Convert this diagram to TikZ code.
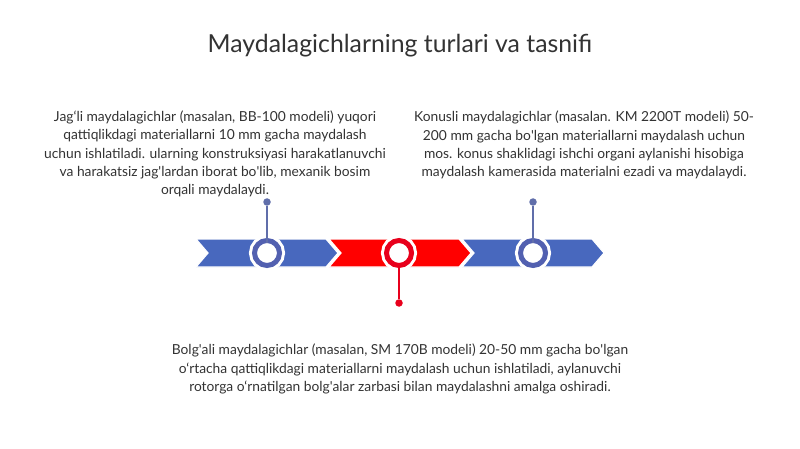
\documentclass[tikz,border=0pt]{standalone}
\usepackage{fontspec}
\setmainfont{Lato}
\definecolor{bandblue}{RGB}{72,104,190}
\definecolor{ringblue}{RGB}{82,96,176}
\definecolor{stemblue}{RGB}{96,110,170}
\definecolor{bandred}{RGB}{255,0,0}
\definecolor{ringred}{RGB}{232,0,28}
\definecolor{txt}{RGB}{51,51,51}
\newcommand{\q}{\textquotesingle}
\begin{document}
\begin{tikzpicture}[x=1pt,y=-1pt,
  seg/.style={draw=white,line width=1.2pt},
  ring/.style={circle,minimum size=25pt,inner sep=0pt,line width=5pt,fill=white,
     outer sep=0pt,preaction={draw=white,line width=11pt}},
  dotn/.style={circle,minimum size=7.5pt,inner sep=0pt},
  stem/.style={line width=1.3pt},
  body/.style={align=center,text=txt,font=\fontsize{13.8}{18.2}\selectfont,inner sep=0pt},
]
\useasboundingbox[fill=white] (0,0) rectangle (800,449);
\node[text=txt,font=\fontsize{24.8}{28}\selectfont] (title) at (400,46) {Maydalagichlarning turlari va tasnifi};
% band segments
\foreach \xo/\c in {196/bandblue,329/bandred,462/bandblue}{
  \fill[\c,seg] (\xo,239) -- (\xo+130,239) -- (\xo+142,253) -- (\xo+130,267) -- (\xo,267) -- (\xo+12,253) -- cycle;
}
% rings
\node[ring,draw=ringblue] (c1) at (267,253) {};
\node[ring,draw=ringred] (c2) at (399,253) {};
\node[ring,draw=ringblue] (c3) at (533,253) {};
% dots
\node[dotn,fill=stemblue] (d1) at (267,202) {};
\node[dotn,fill=ringred] (d2) at (399,303) {};
\node[dotn,fill=stemblue] (d3) at (533,202) {};
\draw[stem,stemblue] (d1) -- ([yshift=-2.5pt]c1.north);
\draw[stem,ringred] (d2) -- ([yshift=2.5pt]c2.south);
\draw[stem,stemblue] (d3) -- ([yshift=-2.5pt]c3.north);
% texts
\node[body] (t1) at (215,154) {Jag‘li maydalagichlar (masalan, BB-100 modeli) yuqori\\qattiqlikdagi materiallarni 10 mm gacha maydalash\\uchun ishlatiladi. ularning konstruksiyasi harakatlanuvchi\\va harakatsiz jag\q lardan iborat bo\q lib, mexanik bosim\\orqali maydalaydi.};
\node[body] (t2) at (584,145) {Konusli maydalagichlar (masalan. KM 2200T modeli) 50-\\200 mm gacha bo\q lgan materiallarni maydalash uchun\\mos. konus shaklidagi ishchi organi aylanishi hisobiga\\maydalash kamerasida materialni ezadi va maydalaydi.};
\node[body] (t3) at (400,369) {Bolg\q ali maydalagichlar (masalan, SM 170B modeli) 20-50 mm gacha bo\q lgan\\o‘rtacha qattiqlikdagi materiallarni maydalash uchun ishlatiladi, aylanuvchi\\rotorga o‘rnatilgan bolg\q alar zarbasi bilan maydalashni amalga oshiradi.};
\end{tikzpicture}
\end{document}
